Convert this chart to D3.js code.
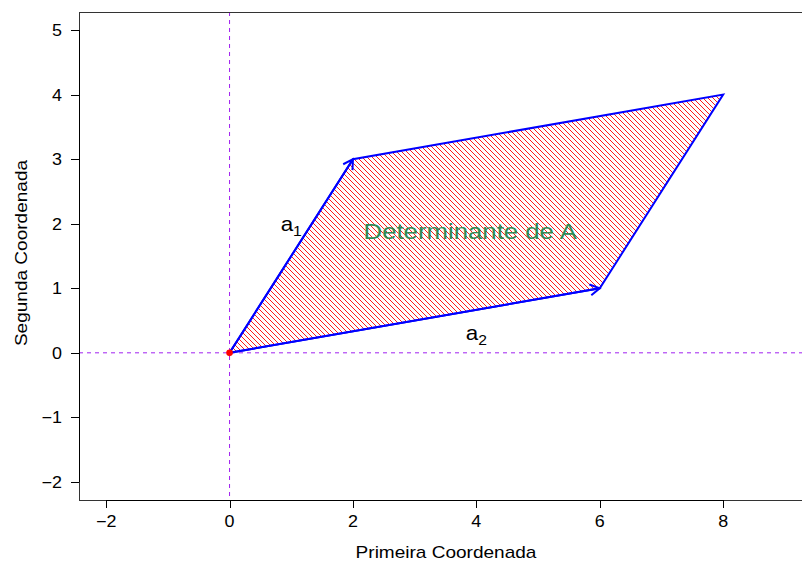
<!DOCTYPE html>
<html>
<head>
<meta charset="utf-8">
<script src="https://cdn.jsdelivr.net/npm/d3@7"></script>
<style>
  body { margin: 0; background: #fff; }
  svg text { font-family: "Liberation Sans", Arial, sans-serif; fill: #000; }
</style>
</head>
<body>
<svg id="chart" width="802" height="563"></svg>
<script>
// data
const xTicks = [-2, 0, 2, 4, 6, 8];
const yTicks = [-2, -1, 0, 1, 2, 3, 4, 5];
const polyX = [0, 2, 8, 6];
const polyY = [0, 3, 4, 1];
const vectorNames = ['1', '2'];
const vectorX = [2, 6];
const vectorY = [3, 1];
const labelX = [1, 4];
const labelY = [2, 0.3];
const areaLabel = 'Determinante de A';
const areaLabelX = 3.9;
const areaLabelY = 1.9;

const svg = d3.select('#chart');
const margin = { top: 12, left: 79, bottom: 500, right: 812 };
const stretch = 1.12;

// scales (R style, 4% padding)
const xScale = d3.scaleLinear().domain([-2.44, 9.44]).range([margin.left, margin.right]);
const yScale = d3.scaleLinear().domain([-2.28, 5.28]).range([margin.bottom, margin.top]);

function stext(g, x, y, txt, size, anchor) {
  return g.append('text')
    .attr('transform', `translate(${x},${y}) scale(${stretch},1)`)
    .attr('font-size', size)
    .attr('text-anchor', anchor || 'middle')
    .text(txt);
}

// hatch pattern
const defs = svg.append('defs');
defs.append('pattern')
  .attr('id', 'hatch')
  .attr('patternUnits', 'userSpaceOnUse')
  .attr('width', 5)
  .attr('height', 5)
  .append('path')
  .attr('d', 'M-1,-1 L6,6 M-1,4 L1,6 M4,-1 L6,1')
  .attr('stroke', '#ff0000')
  .attr('stroke-width', 0.9);

// reference lines
svg.append('line')
  .attr('x1', xScale(0)).attr('x2', xScale(0))
  .attr('y1', margin.top).attr('y2', margin.bottom)
  .attr('stroke', '#a020f0').attr('stroke-dasharray', '4,4');
svg.append('line')
  .attr('x1', margin.left).attr('x2', margin.right)
  .attr('y1', yScale(0)).attr('y2', yScale(0))
  .attr('stroke', '#a020f0').attr('stroke-dasharray', '4,4');

// parallelogram
const pts = polyX.map((x, i) => [xScale(x), yScale(polyY[i])]);
svg.append('path')
  .attr('d', d3.line()(pts) + 'Z')
  .attr('fill', 'url(#hatch)')
  .attr('stroke', '#0000ff')
  .attr('stroke-width', 2);

// vectors as arrows
vectorX.forEach((vx, i) => {
  const x0 = xScale(0), y0 = yScale(0);
  const x1 = xScale(vx), y1 = yScale(vectorY[i]);
  const ang = Math.atan2(y1 - y0, x1 - x0);
  const len = 11;
  const head = [ang + Math.PI - Math.PI / 6, ang + Math.PI + Math.PI / 6]
    .map(a => [x1 + len * Math.cos(a), y1 + len * Math.sin(a)]);
  svg.append('path')
    .attr('d', `M${x0},${y0}L${x1},${y1}M${head[0][0]},${head[0][1]}L${x1},${y1}L${head[1][0]},${head[1][1]}`)
    .attr('fill', 'none')
    .attr('stroke', '#0000ff')
    .attr('stroke-width', 2);

  const t = svg.append('text')
    .attr('transform', `translate(${xScale(labelX[i])},${yScale(labelY[i]) + 7}) scale(${stretch},1)`)
    .attr('font-size', 20)
    .attr('text-anchor', 'middle');
  t.append('tspan').text('a');
  t.append('tspan').attr('font-size', 14).attr('dy', 5).text(vectorNames[i]);
});

// origin point
svg.append('circle')
  .attr('cx', xScale(0)).attr('cy', yScale(0))
  .attr('r', 3.3).attr('fill', '#ff0000');

// area label
stext(svg, xScale(areaLabelX), yScale(areaLabelY) + 8.5, areaLabel, 23)
  .style('fill', '#2e8b57');

// box
svg.append('rect')
  .attr('x', margin.left + 0.5).attr('y', margin.top + 0.5)
  .attr('width', margin.right - margin.left).attr('height', margin.bottom - margin.top)
  .attr('fill', 'none').attr('stroke', '#333').attr('stroke-width', 1);

// x axis
const gx = svg.append('g');
gx.append('line')
  .attr('x1', xScale(xTicks[0])).attr('x2', xScale(xTicks[xTicks.length - 1]))
  .attr('y1', margin.bottom + 0.5).attr('y2', margin.bottom + 0.5)
  .attr('stroke', '#000');
xTicks.forEach(t => {
  const x = Math.round(xScale(t)) + 0.5;
  gx.append('line').attr('x1', x).attr('x2', x)
    .attr('y1', margin.bottom).attr('y2', margin.bottom + 8).attr('stroke', '#000');
  stext(gx, xScale(t), margin.bottom + 27, d3.format('')(t).replace('-', '\u2212'), 16);
});

// y axis
const gy = svg.append('g');
gy.append('line')
  .attr('x1', margin.left + 0.5).attr('x2', margin.left + 0.5)
  .attr('y1', yScale(yTicks[0])).attr('y2', yScale(yTicks[yTicks.length - 1]))
  .attr('stroke', '#000');
yTicks.forEach(t => {
  const y = Math.round(yScale(t)) + 0.5;
  gy.append('line').attr('x1', margin.left - 8).attr('x2', margin.left)
    .attr('y1', y).attr('y2', y).attr('stroke', '#000');
  stext(gy, 62, yScale(t) + 6, d3.format('')(t).replace('-', '\u2212'), 16, 'end');
});

// axis titles
stext(svg, 446, 558, 'Primeira Coordenada', 17);
svg.append('text')
  .attr('transform', `translate(27,253) rotate(-90) scale(${stretch},1)`)
  .attr('font-size', 17)
  .attr('text-anchor', 'middle')
  .text('Segunda Coordenada');
</script>
</body>
</html>
